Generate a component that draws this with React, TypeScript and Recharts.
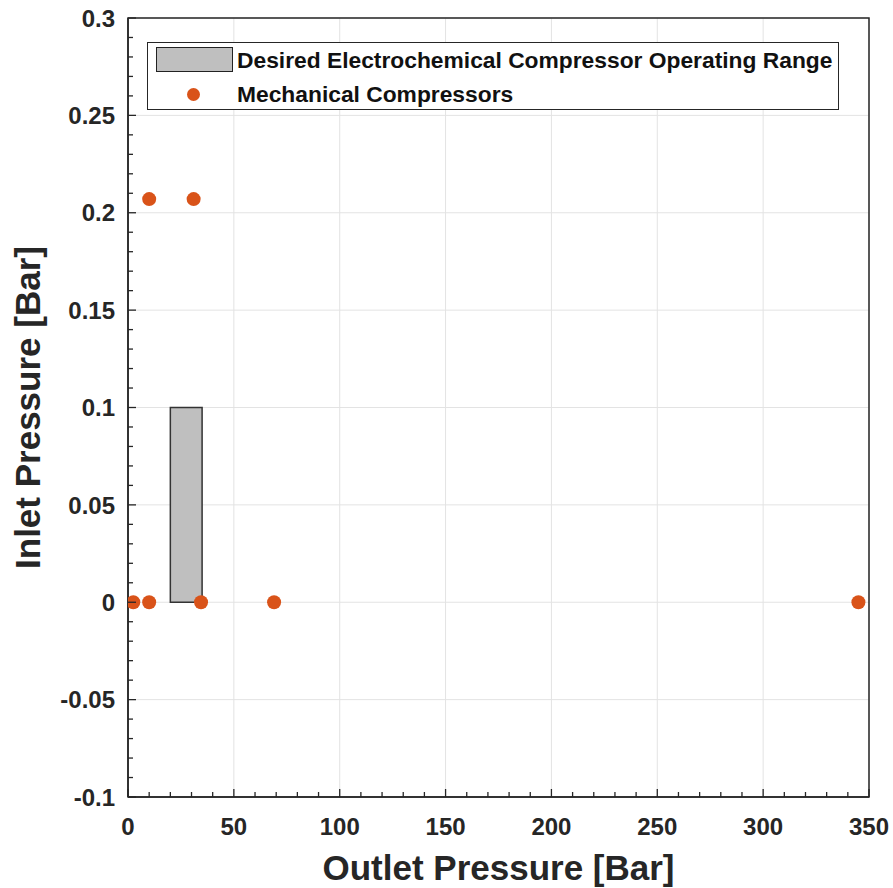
import React from 'react';
import { ScatterChart, Scatter, XAxis, YAxis, CartesianGrid, ReferenceArea, Label } from 'recharts';

// outlet / inlet pressures of the mechanical compressors [bar]
const mechOutlet = [2.5, 10, 34.5, 69, 345, 10, 31];
const mechInlet = [0, 0, 0, 0, 0, 0.207, 0.207];

// desired electrochemical compressor range
const rangeOutlet = [20, 35];
const rangeInlet = [0, 0.1];

const xDomain = [0, 350];
const yDomain = [-0.1, 0.3];
const xMajorTicks = [0, 50, 100, 150, 200, 250, 300, 350];
const yMajorTicks = [-0.1, -0.05, 0, 0.05, 0.1, 0.15, 0.2, 0.25, 0.3];
const xMinorTicks = Array.from({ length: 36 }, (_, i) => i * 10);
const yMinorTicks = Array.from({ length: 41 }, (_, i) => Math.round((i * 0.01 - 0.1) * 100) / 100);

const legendLabels = ['Desired Electrochemical Compressor Operating Range', 'Mechanical Compressors'];

const DOT = '#D95319';
const INK = '#262626';
const FONT = '"Liberation Sans", Arial, Helvetica, sans-serif';

const data = mechOutlet.map((x, i) => ({ x, y: mechInlet[i] }));

const isMajor = (v: number, list: number[]) => list.some((m) => Math.abs(m - v) < 1e-6);
const fmt = (v: number) => String(Number(v.toFixed(2)));

const makeTick = (side: 'bottom' | 'top' | 'left' | 'right') => (props: any) => {
    const { x, y, payload } = props;
    const v = payload.value as number;
    const major = side === 'bottom' || side === 'top' ? isMajor(v, xMajorTicks) : isMajor(v, yMajorTicks);
    const len = major ? 8 : 5;
    let line;
    if (side === 'bottom') line = <line x1={x} x2={x} y1={y} y2={y - len} stroke={INK} strokeWidth={1.3} />;
    else if (side === 'top') line = <line x1={x} x2={x} y1={y} y2={y + len} stroke={INK} strokeWidth={1.3} />;
    else if (side === 'left') line = <line x1={x} x2={x + len} y1={y} y2={y} stroke={INK} strokeWidth={1.3} />;
    else line = <line x1={x} x2={x - len} y1={y} y2={y} stroke={INK} strokeWidth={1.3} />;
    let label = null;
    if (major && side === 'bottom') {
        label = (
            <text x={x} y={y + 38} textAnchor="middle" fontSize={24} fontWeight="bold" fill={INK} fontFamily={FONT}>
                {fmt(v)}
            </text>
        );
    } else if (major && side === 'left') {
        label = (
            <text x={x - 13} y={y} dy="0.36em" textAnchor="end" fontSize={24} fontWeight="bold" fill={INK} fontFamily={FONT}>
                {fmt(v)}
            </text>
        );
    }
    return (
        <g>
            {line}
            {label}
        </g>
    );
};

const XTitle = (props: any) => {
    const { viewBox } = props;
    return (
        <text x={viewBox.x + viewBox.width / 2} y={880} textAnchor="middle" fontSize={35} fontWeight="bold" fill={INK} fontFamily={FONT}>
            Outlet Pressure [Bar]
        </text>
    );
};

const YTitle = (props: any) => {
    const { viewBox } = props;
    const cy = viewBox.y + viewBox.height / 2;
    return (
        <text x={40} y={cy} transform={`rotate(-90, 40, ${cy})`} textAnchor="middle" fontSize={35} fontWeight="bold" fill={INK} fontFamily={FONT}>
            Inlet Pressure [Bar]
        </text>
    );
};

const Dot = (props: any) => <circle cx={props.cx} cy={props.cy} r={7} fill={DOT} />;

export default function App() {
    return (
        <div style={{ position: 'absolute', left: 0, top: 0, width: 893, height: 888, background: '#fff' }}>
            <ScatterChart width={893} height={888} margin={{ top: 18, right: 24, left: 0, bottom: 0 }}>
                <CartesianGrid stroke="#e3e3e3" horizontalValues={yMajorTicks} verticalValues={xMajorTicks} />
                <XAxis
                    type="number"
                    dataKey="x"
                    domain={xDomain}
                    ticks={xMinorTicks}
                    interval={0}
                    allowDataOverflow
                    height={91}
                    tickSize={0}
                    tickMargin={0}
                    tick={makeTick('bottom')}
                    axisLine={{ stroke: INK, strokeWidth: 1.5 }}
                >
                    <Label content={XTitle} />
                </XAxis>
                <XAxis
                    xAxisId="top"
                    orientation="top"
                    type="number"
                    domain={xDomain}
                    ticks={xMinorTicks}
                    interval={0}
                    allowDataOverflow
                    height={0}
                    tickSize={0}
                    tickMargin={0}
                    tick={makeTick('top')}
                    axisLine={false}
                />
                <YAxis
                    type="number"
                    dataKey="y"
                    domain={yDomain}
                    ticks={yMinorTicks}
                    interval={0}
                    allowDataOverflow
                    width={128}
                    tickSize={0}
                    tickMargin={0}
                    tick={makeTick('left')}
                    axisLine={{ stroke: INK, strokeWidth: 1.5 }}
                >
                    <Label content={YTitle} />
                </YAxis>
                <YAxis
                    yAxisId="right"
                    orientation="right"
                    type="number"
                    domain={yDomain}
                    ticks={yMinorTicks}
                    interval={0}
                    allowDataOverflow
                    width={0}
                    tickSize={0}
                    tickMargin={0}
                    tick={makeTick('right')}
                    axisLine={false}
                />
                {/* axes box */}
                <ReferenceArea
                    x1={xDomain[0]}
                    x2={xDomain[1]}
                    y1={yDomain[0]}
                    y2={yDomain[1]}
                    fill="none"
                    stroke={INK}
                    strokeWidth={1.5}
                />
                <ReferenceArea
                    x1={rangeOutlet[0]}
                    x2={rangeOutlet[1]}
                    y1={rangeInlet[0]}
                    y2={rangeInlet[1]}
                    fill="#bfbfbf"
                    fillOpacity={1}
                    stroke="#333"
                    strokeWidth={1.5}
                />
                <Scatter data={data} shape={Dot} isAnimationActive={false} />
            </ScatterChart>
            <div
                style={{
                    position: 'absolute',
                    left: 147,
                    top: 42,
                    width: 692,
                    height: 68,
                    boxSizing: 'border-box',
                    border: `1.5px solid ${INK}`,
                    background: '#fff',
                    fontFamily: FONT,
                    fontWeight: 'bold',
                    fontSize: 22.8,
                    color: '#111',
                }}
            >
                <div style={{ position: 'absolute', left: 8, top: 4, width: 77, height: 25, boxSizing: 'border-box', background: '#bfbfbf', border: '1.5px solid #222' }} />
                <div style={{ position: 'absolute', left: 89, top: 3, lineHeight: '28px', whiteSpace: 'nowrap' }}>{legendLabels[0]}</div>
                <div style={{ position: 'absolute', left: 39, top: 45, width: 13, height: 13, borderRadius: '50%', background: DOT }} />
                <div style={{ position: 'absolute', left: 89, top: 37, lineHeight: '28px', whiteSpace: 'nowrap' }}>{legendLabels[1]}</div>
            </div>
        </div>
    );
}
